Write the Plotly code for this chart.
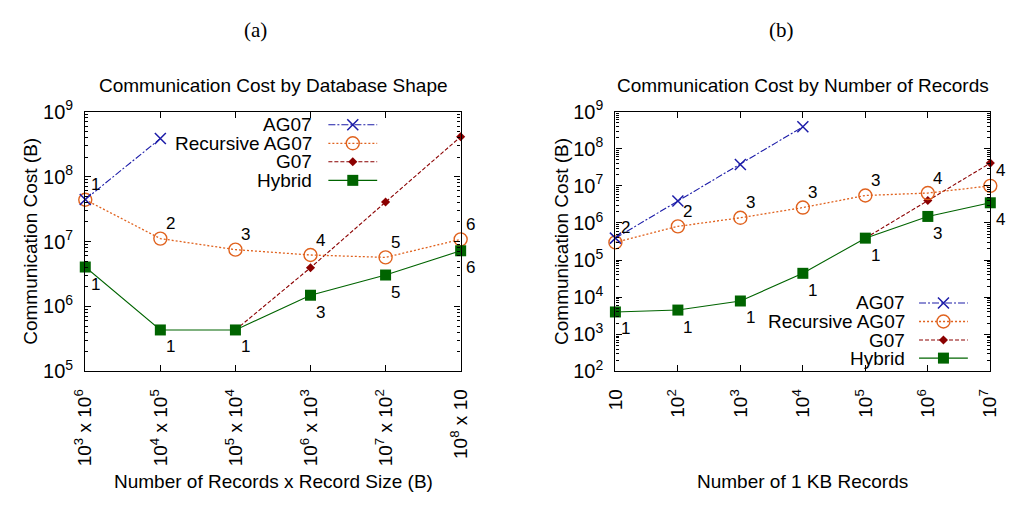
import math
import plotly.graph_objects as go

W, H = 1013, 506

# ---------------- data ----------------
# (a) database shape: number of records x record size
shape_labels = ["10<sup>3</sup> x 10<sup>6</sup>", "10<sup>4</sup> x 10<sup>5</sup>",
                "10<sup>5</sup> x 10<sup>4</sup>", "10<sup>6</sup> x 10<sup>3</sup>",
                "10<sup>7</sup> x 10<sup>2</sup>", "10<sup>8</sup> x 10"]
shape_idx = [0, 1, 2, 3, 4, 5]

a_ag07_x = [0, 1]
a_ag07 = [4.45e7, 3.85e8]
a_rec = [4.4e7, 1.11e7, 7.5e6, 6.2e6, 5.7e6, 1.08e7]
a_rec_lbl = ["1", "2", "3", "4", "5", "6"]
a_g07_x = [2, 3, 4, 5]
a_g07 = [4.35e5, 3.95e6, 4.05e7, 4.1e8]
a_hyb = [4.05e6, 4.35e5, 4.35e5, 1.49e6, 3.05e6, 7.2e6]
a_hyb_lbl = ["1", "1", "1", "3", "5", "6"]

# (b) number of 1 KB records
recs = [1e1, 1e2, 1e3, 1e4, 1e5, 1e6, 1e7]
rec_ticktext = ["10", "10<sup>2</sup>", "10<sup>3</sup>", "10<sup>4</sup>",
                "10<sup>5</sup>", "10<sup>6</sup>", "10<sup>7</sup>"]
b_ag07_x = [1e1, 1e2, 1e3, 1e4]
b_ag07 = [3.9e5, 3.9e6, 3.75e7, 3.9e8]
b_rec = [3.0e5, 8.1e5, 1.38e6, 2.6e6, 5.5e6, 6.4e6, 1.0e7]
b_rec_lbl = ["2", "2", "3", "3", "3", "4", "4"]
b_g07_x = [1e5, 1e6, 1e7]
b_g07 = [3.9e5, 4.05e6, 4.1e7]
b_hyb = [4.0e3, 4.5e3, 7.9e3, 4.4e4, 3.9e5, 1.5e6, 3.5e6]
b_hyb_lbl = ["1", "1", "1", "1", "1", "3", "4"]

series_names = ["AG07", "Recursive AG07", "G07", "Hybrid"]

# ---------------- styles ----------------
BLUE = "#1c1ca8"
ORANGE = "#e0621e"
DRED = "#8b0000"
GREEN = "#006400"
FONT = "Liberation Sans"

styles = {
    "AG07": dict(line=dict(color=BLUE, width=1.1, dash="7px,2px,2px,2px"),
                 marker=dict(symbol="x-thin", size=11, line=dict(color=BLUE, width=1.5), color=BLUE)),
    "Recursive AG07": dict(line=dict(color=ORANGE, width=1.3, dash="2px,2px"),
                           marker=dict(symbol="circle-open", size=13, line=dict(color=ORANGE, width=1.4), color=ORANGE)),
    "G07": dict(line=dict(color=DRED, width=1.1, dash="4px,2px"),
                marker=dict(symbol="diamond", size=7, color=DRED, line=dict(width=0))),
    "Hybrid": dict(line=dict(color=GREEN, width=1.1),
                   marker=dict(symbol="square", size=11, color=GREEN, line=dict(width=0))),
}


def px(x):
    return x / W


def py(y):
    return 1 - y / H


fig = go.Figure()


def add_series(x, y, name, xa, ya):
    s = styles[name]
    fig.add_trace(go.Scatter(x=x, y=y, mode="lines+markers", name=name,
                             line=s["line"], marker=s["marker"],
                             xaxis=xa, yaxis=ya, showlegend=False, cliponaxis=False))


# panel (a)
add_series(a_g07_x, a_g07, "G07", "x", "y")
add_series(shape_idx, a_rec, "Recursive AG07", "x", "y")
add_series(shape_idx, a_hyb, "Hybrid", "x", "y")
add_series(a_ag07_x, a_ag07, "AG07", "x", "y")
# panel (b)
add_series(b_g07_x, b_g07, "G07", "x2", "y2")
add_series(recs, b_rec, "Recursive AG07", "x2", "y2")
add_series(recs, b_hyb, "Hybrid", "x2", "y2")
add_series(b_ag07_x, b_ag07, "AG07", "x2", "y2")

annotations = []

# point labels: recursive above-right, hybrid below-right
def point_labels(xs, ys, labels, xref, yref, xlog, dy):
    for x, y, t in zip(xs, ys, labels):
        annotations.append(dict(
            x=math.log10(x) if xlog else x, y=math.log10(y), xref=xref, yref=yref,
            text=t, showarrow=False, xanchor="center", yanchor="middle",
            xshift=10, yshift=dy, font=dict(family=FONT, size=17, color="black")))


point_labels(shape_idx, a_rec, a_rec_lbl, "x", "y", False, 15)
point_labels(shape_idx, a_hyb, a_hyb_lbl, "x", "y", False, -17)
point_labels(recs, b_rec, b_rec_lbl, "x2", "y2", True, 15)
point_labels(recs, b_hyb, b_hyb_lbl, "x2", "y2", True, -17)

# legends drawn on a pixel-space overlay axis (text left of the key)
def legend_block(text_right, key_x0, key_x1, rows):
    for name, ry in zip(series_names, rows):
        s = styles[name]
        fig.add_trace(go.Scatter(x=[key_x0, key_x1], y=[ry, ry], mode="lines",
                                 line=s["line"], xaxis="x3", yaxis="y3",
                                 showlegend=False, hoverinfo="skip", cliponaxis=False))
        fig.add_trace(go.Scatter(x=[(key_x0 + key_x1) / 2], y=[ry], mode="markers",
                                 marker=s["marker"], xaxis="x3", yaxis="y3",
                                 showlegend=False, hoverinfo="skip", cliponaxis=False))
        annotations.append(dict(x=px(text_right), y=py(ry), xref="paper", yref="paper",
                                text=name, showarrow=False, xanchor="right", yanchor="middle",
                                font=dict(family=FONT, size=19, color="black")))


legend_block(307, 322, 372, [116.5, 136, 155.5, 175])
legend_block(915, 927, 977, [304, 323.5, 343, 362])

# titles
def text(x, y, t, size=19, angle=0, family=FONT):
    annotations.append(dict(x=px(x), y=py(y), xref="paper", yref="paper", text=t,
                            showarrow=False, xanchor="center", yanchor="middle",
                            textangle=angle, font=dict(family=family, size=size, color="black")))


text(247, 17, "(a)", size=21, family="Liberation Serif")
text(786, 17, "(b)", size=21, family="Liberation Serif")
text(266, 75, "Communication Cost by Database Shape", size=19)
text(808, 75, "Communication Cost by Number of Records", size=19)
text(17, 239, "Communication Cost (B)", size=19, angle=-90)
text(560, 239, "Communication Cost (B)", size=19, angle=-90)
text(266, 492, "Number of Records x Record Size (B)", size=19)
text(808, 492, "Number of 1 KB Records", size=19)

XL, XR = 73, 457.5
X2L, X2R = 616, 1000
YT, YB = 102.7, 376

axis_common = dict(showline=True, linecolor="black", linewidth=1.4, mirror="allticks",
                   ticks="inside", ticklen=6, tickwidth=1, tickcolor="black",
                   showgrid=False, zeroline=False)
TICKFONT_Y = dict(family=FONT, size=20, color="black")
TICKFONT_X = dict(family=FONT, size=19, color="black")


def minor_vals(lo, hi):
    return [k * 10 ** d for d in range(lo, hi) for k in range(2, 10)]


def ylog(lo, hi):
    return dict(type="log", range=[lo, hi],
                tickvals=[10 ** d for d in range(lo, hi + 1)],
                ticktext=["10<sup>%d</sup>" % d for d in range(lo, hi + 1)],
                ticklabelstandoff=7, tickfont=TICKFONT_Y,
                minor=dict(tickvals=minor_vals(lo, hi), ticks="inside", ticklen=3,
                           tickcolor="black", showgrid=False),
                **axis_common)


fig.update_layout(
    width=W, height=H, margin=dict(l=0, r=0, t=0, b=0),
    paper_bgcolor="white", plot_bgcolor="rgba(0,0,0,0)",
    showlegend=False,
    xaxis=dict(domain=[px(XL), px(XR)], range=[0, 5], tickvals=shape_idx,
               ticktext=shape_labels, tickangle=-90, anchor="y", ticklabelstandoff=9,
               tickfont=TICKFONT_X, **axis_common),
    yaxis=dict(domain=[py(YB), py(YT)], anchor="x", **ylog(5, 9)),
    xaxis2=dict(domain=[px(X2L), px(X2R)], type="log", range=[1, 7], tickvals=recs,
                ticktext=rec_ticktext, tickangle=-90, anchor="y2", ticklabelstandoff=9,
                tickfont=TICKFONT_X, **axis_common),
    yaxis2=dict(domain=[py(YB), py(YT)], anchor="x2", **ylog(2, 9)),
    xaxis3=dict(domain=[0, 1], range=[0, W], visible=False, anchor="y3"),
    yaxis3=dict(domain=[0, 1], range=[H, 0], visible=False, anchor="x3"),
    annotations=annotations,
)

fig.write_html("out.html")
